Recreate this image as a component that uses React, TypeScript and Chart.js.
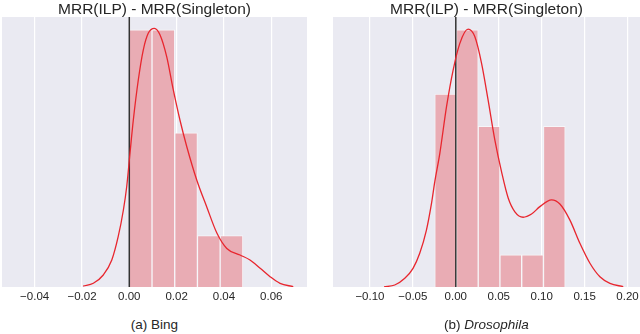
import React, { useEffect, useRef } from "react";
import { Chart, registerables } from "chart.js";
Chart.register(...registerables);

// ---------- Panel (a) Bing ----------
const bingBinEdges = [0, 0.0096, 0.0192, 0.0288, 0.0384, 0.048];
const bingCounts = [5, 5, 3, 1, 1];
const bingKdeX = [
  -0.0195, -0.0152, -0.011, -0.0074, -0.0047, -0.0025, -0.0011, 0.0003, 0.0017,
  0.0038, 0.0059, 0.008, 0.0106, 0.013, 0.0158, 0.0186, 0.0214, 0.0243, 0.0285,
  0.0327, 0.0370, 0.0412, 0.0468, 0.051, 0.0553, 0.0595, 0.0637, 0.0693,
];
const bingKdeY = [
  0.019, 0.072, 0.233, 0.525, 0.978, 1.497, 1.95, 2.605, 3.247, 4.025, 4.608,
  4.933, 5.03, 4.9, 4.478, 3.831, 3.247, 2.728, 2.081, 1.561, 1.05, 0.75, 0.622,
  0.525, 0.364, 0.2, 0.072, 0.006,
];
const bingTicks = [-0.04, -0.02, 0, 0.02, 0.04, 0.06];
const bingTickLabels = ["\u22120.04", "\u22120.02", "0.00", "0.02", "0.04", "0.06"];
const bingXMin = -0.0538;
const bingXMax = 0.0751;
const bingYMax = 5.25;

// ---------- Panel (b) Drosophila ----------
const droBinEdges = [-0.0245, 0.0008, 0.0261, 0.0514, 0.0767, 0.1021, 0.1274];
const droCounts = [6, 8, 5, 1, 1, 5];
const droKdeX = [
  -0.0836, -0.0711, -0.0594, -0.0498, -0.042, -0.0342, -0.0283, -0.0245, -0.0186,
  -0.0108, -0.0031, 0.0047, 0.0143, 0.0221, 0.03, 0.0376, 0.0455, 0.0533, 0.061,
  0.0688, 0.0784, 0.0882, 0.0979, 0.1115, 0.1212, 0.1329, 0.1445, 0.1562, 0.1678,
  0.1795, 0.195,
];
const droKdeY = [
  0.005, 0.062, 0.27, 0.58, 1.05, 1.77, 2.6, 3.27, 4.16, 5.61, 6.75, 7.58, 8.02,
  7.79, 6.96, 5.82, 4.57, 3.58, 2.77, 2.34, 2.17, 2.27, 2.5, 2.71, 2.58, 2.08,
  1.36, 0.74, 0.32, 0.115, 0.01,
];
const droTicks = [-0.1, -0.05, 0, 0.05, 0.1, 0.15, 0.2];
const droTickLabels = ["\u22120.10", "\u22120.05", "0.00", "0.05", "0.10", "0.15", "0.20"];
const droXMin = -0.143;
const droXMax = 0.2145;
const droYMax = 8.4;

const FONT = "'Liberation Sans', Arial, Helvetica, sans-serif";
const TEXT = "#262626";
const PAD = 20;
const PAD_T = 5;
const AXIS_H = 30;

type PanelProps = {
  edges: number[];
  counts: number[];
  kdeX: number[];
  kdeY: number[];
  ticks: number[];
  tickLabels: string[];
  xMin: number;
  xMax: number;
  yMax: number;
  left: number;
  top: number;
  width: number;
  height: number;
};

const bgPlugin = {
  id: "plotBg",
  beforeDraw(chart: any) {
    const { ctx, chartArea } = chart;
    if (!chartArea) return;
    ctx.save();
    ctx.fillStyle = "#EAEAF2";
    ctx.fillRect(chartArea.left, chartArea.top, chartArea.right - chartArea.left, chartArea.bottom - chartArea.top);
    ctx.restore();
  },
};

function Panel(p: PanelProps) {
  const ref = useRef<HTMLCanvasElement | null>(null);
  useEffect(() => {
    if (!ref.current) return;
    const bars = p.counts.map((c, i) => ({ x: (p.edges[i] + p.edges[i + 1]) / 2, y: c }));
    const kde = p.kdeX.map((x, i) => ({ x, y: p.kdeY[i] }));
    const chart = new Chart(ref.current, {
      type: "bar",
      data: {
        datasets: [
          {
            type: "line",
            data: kde,
            borderColor: "#E8262E",
            borderWidth: 1.3,
            pointRadius: 0,
            cubicInterpolationMode: "monotone",
            fill: false,
            order: 0,
          } as any,
          {
            type: "line",
            data: [
              { x: 0, y: 0 },
              { x: 0, y: p.yMax },
            ],
            borderColor: "#333333",
            borderWidth: 1.5,
            pointRadius: 0,
            tension: 0,
            fill: false,
            order: 1,
          } as any,
          {
            type: "bar",
            data: bars,
            backgroundColor: "rgb(233,172,180)",
            borderColor: "rgba(255,255,255,0.55)",
            borderWidth: { left: 1, right: 1, top: 1, bottom: 0 },
            borderSkipped: false,
            barPercentage: 1,
            categoryPercentage: 1,
            order: 2,
          } as any,
        ],
      },
      options: {
        animation: false,
        responsive: true,
        maintainAspectRatio: false,
        layout: { padding: { left: PAD, right: PAD, top: PAD_T, bottom: 0 } },
        plugins: { legend: { display: false }, tooltip: { enabled: false }, title: { display: false } },
        scales: {
          x: {
            type: "linear",
            min: p.xMin,
            max: p.xMax,
            offset: false,
            border: { display: false },
            grid: { color: "#FFFFFF", lineWidth: 1.2, drawTicks: false, offset: false },
            afterBuildTicks: (scale: any) => {
              scale.ticks = p.ticks.map((v) => ({ value: v }));
            },
            afterFit: (scale: any) => {
              scale.height = AXIS_H;
            },
            ticks: {
              autoSkip: false,
              maxRotation: 0,
              padding: 3,
              color: TEXT,
              font: { family: FONT, size: 11.5 },
              callback: (_v: any, i: number) => p.tickLabels[i],
            },
          },
          y: {
            type: "linear",
            min: 0,
            max: p.yMax,
            display: false,
          },
        },
      } as any,
      plugins: [bgPlugin],
    });
    return () => chart.destroy();
  }, []);
  return (
    <div
      style={{
        position: "absolute",
        left: p.left - PAD,
        top: p.top - PAD_T,
        width: p.width + 2 * PAD,
        height: p.height + PAD_T + AXIS_H,
      }}
    >
      <canvas ref={ref} />
    </div>
  );
}

const titleStyle: React.CSSProperties = {
  position: "absolute",
  top: 0,
  height: 17,
  lineHeight: "17px",
  fontSize: 15.5,
  fontFamily: FONT,
  color: TEXT,
  textAlign: "center",
  whiteSpace: "nowrap",
};
const captionStyle: React.CSSProperties = {
  position: "absolute",
  top: 318,
  height: 14,
  lineHeight: "14px",
  fontSize: 13.5,
  fontFamily: FONT,
  color: TEXT,
  textAlign: "center",
  whiteSpace: "nowrap",
};

export default function App() {
  return (
    <div
      style={{
        position: "fixed",
        left: 0,
        top: 0,
        width: 640,
        height: 334,
        overflow: "hidden",
        background: "#FFFFFF",
      }}
    >
      <Panel
        edges={bingBinEdges}
        counts={bingCounts}
        kdeX={bingKdeX}
        kdeY={bingKdeY}
        ticks={bingTicks}
        tickLabels={bingTickLabels}
        xMin={bingXMin}
        xMax={bingXMax}
        yMax={bingYMax}
        left={2}
        top={17}
        width={305}
        height={270}
      />
      <Panel
        edges={droBinEdges}
        counts={droCounts}
        kdeX={droKdeX}
        kdeY={droKdeY}
        ticks={droTicks}
        tickLabels={droTickLabels}
        xMin={droXMin}
        xMax={droXMax}
        yMax={droYMax}
        left={333}
        top={17}
        width={307}
        height={270}
      />
      <div style={{ ...titleStyle, left: 2, width: 305 }}>MRR(ILP) - MRR(Singleton)</div>
      <div style={{ ...titleStyle, left: 333, width: 307 }}>MRR(ILP) - MRR(Singleton)</div>
      <div style={{ ...captionStyle, left: 2, width: 305 }}>(a) Bing</div>
      <div style={{ ...captionStyle, left: 333, width: 307 }}>
        (b) <i>Drosophila</i>
      </div>
    </div>
  );
}
